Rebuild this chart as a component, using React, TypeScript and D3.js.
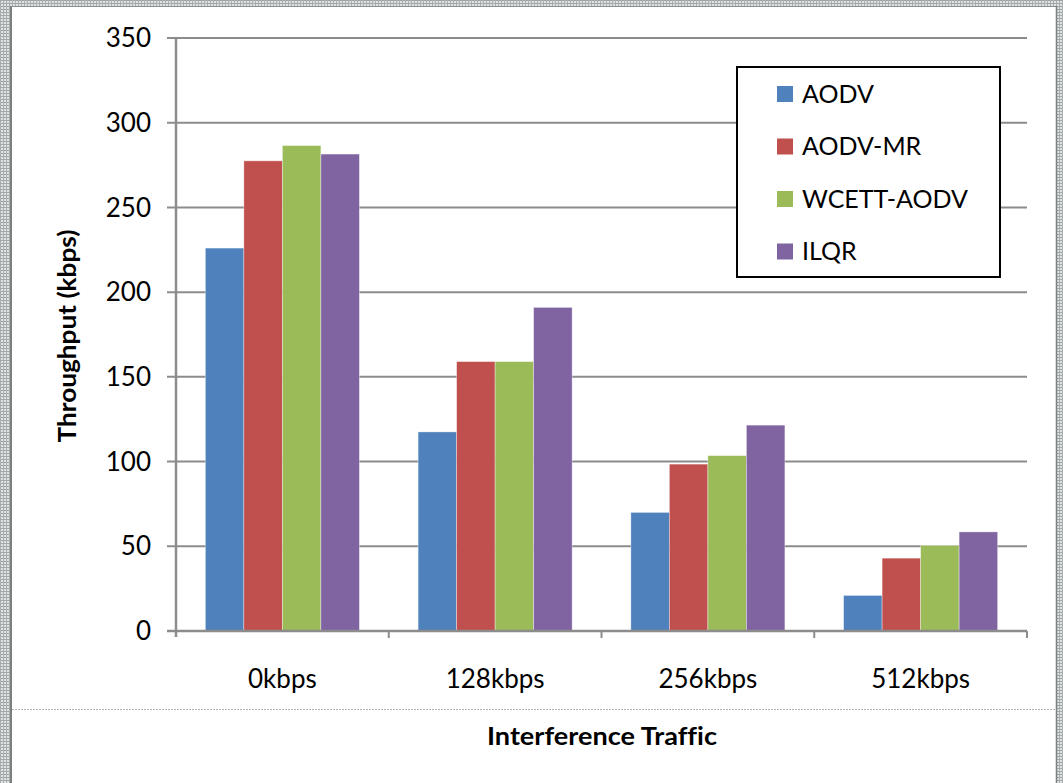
import React from "react";
import * as d3 from "d3";

const categories = ["0kbps", "128kbps", "256kbps", "512kbps"];
const seriesNames = ["AODV", "AODV-MR", "WCETT-AODV", "ILQR"];
const aodv = [226, 117.5, 70, 21];
const aodvMr = [277.5, 159, 98.5, 43];
const wcettAodv = [286.5, 159, 103.5, 50.5];
const ilqr = [281.5, 191, 121.5, 58.5];
const seriesValues = [aodv, aodvMr, wcettAodv, ilqr];
const yTicks = [0, 50, 100, 150, 200, 250, 300, 350];
const colors = ["#4F81BD", "#C0504D", "#9BBB59", "#8064A2"];

const W = 1063;
const H = 783;
const FONT = "Lato, 'Open Sans', sans-serif";

export default function App() {
  const left = 176;
  const right = 1027;
  const top = 38;
  const bottom = 631;

  const x = d3.scaleBand<string>().domain(categories).range([left, right]).padding(0);
  const bw = x.bandwidth();
  const gap = bw * 0.138;
  const xs = d3
    .scaleBand<string>()
    .domain(seriesNames)
    .range([gap, bw - gap])
    .padding(0);
  const y = d3.scaleLinear().domain([0, 350]).range([bottom, top]);

  const gridColor = "#8c8c8c";

  return (
    <svg
      width={W}
      height={H}
      style={{
        position: "absolute",
        left: 0,
        top: 0,
        display: "block",
        background: "#fff",
        fontVariantLigatures: "none",
      }}
    >
      <defs>
        <pattern id="grain" width="3" height="3" patternUnits="userSpaceOnUse">
          <rect width="3" height="3" fill="#dfe3e3" />
          <rect width="3" height="1" fill="#9ea4a4" />
          <rect width="1" height="3" fill="#a8aeae" />
        </pattern>
      </defs>

      {/* window frame */}
      <rect x={0} y={0} width={11} height={H} fill="url(#grain)" />
      <rect x={0} y={0} width={W} height={6} fill="url(#grain)" />
      <rect x={1057} y={0} width={6} height={H} fill="url(#grain)" />
      <line x1={11} x2={11} y1={6} y2={H} stroke="#7a7f7f" strokeWidth={2} />
      <line x1={11} x2={1057} y1={6.5} y2={6.5} stroke="#8a8f8f" strokeWidth={1} />
      <line x1={1056.5} x2={1056.5} y1={6} y2={H} stroke="#7a7f7f" strokeWidth={1.5} />
      <line
        x1={12}
        x2={1056}
        y1={709.5}
        y2={709.5}
        stroke="#b5b5b5"
        strokeWidth={1}
        strokeDasharray="2,1"
      />

      {/* gridlines and y ticks */}
      {yTicks.map((t) => (
        <g key={t}>
          <line x1={167} x2={right} y1={y(t)} y2={y(t)} stroke={gridColor} strokeWidth={2} />
          <text
            x={151}
            y={y(t)}
            dy="0.35em"
            textAnchor="end"
            fontFamily={FONT}
            fontSize={26}
            fill="#000"
          >
            {t}
          </text>
        </g>
      ))}

      {/* bars */}
      {categories.map((c, ci) => (
        <g key={c} transform={`translate(${x(c)},0)`}>
          {seriesNames.map((s, si) => {
            const v = seriesValues[si][ci];
            return (
              <rect
                key={s}
                x={xs(s)}
                y={y(v)}
                width={xs.bandwidth()}
                height={y(0) - y(v)}
                fill={colors[si]}
                stroke="#ffffff"
                strokeOpacity={0.45}
                strokeWidth={0.8}
              />
            );
          })}
        </g>
      ))}

      {/* axes */}
      <line x1={left} x2={left} y1={top} y2={bottom + 6} stroke={gridColor} strokeWidth={2.5} />
      <line x1={167} x2={right} y1={bottom} y2={bottom} stroke={gridColor} strokeWidth={2.5} />
      {categories.map((c, i) => (
        <line
          key={"t" + c}
          x1={left + (i + 1) * bw}
          x2={left + (i + 1) * bw}
          y1={bottom}
          y2={bottom + 7}
          stroke={gridColor}
          strokeWidth={2}
        />
      ))}
      {categories.map((c) => (
        <text
          key={"l" + c}
          x={(x(c) as number) + bw / 2}
          y={679}
          dy="0.35em"
          textAnchor="middle"
          fontFamily={FONT}
          fontSize={26}
          fill="#000"
        >
          {c}
        </text>
      ))}

      {/* axis titles */}
      <text
        x={602}
        y={737}
        dy="0.35em"
        textAnchor="middle"
        fontFamily={FONT}
        fontWeight="bold"
        fontSize={24}
        textLength={230}
        lengthAdjust="spacingAndGlyphs"
        fill="#000"
      >
        Interference Traffic
      </text>
      <text
        transform={`translate(68,336) rotate(-90)`}
        dy="0.35em"
        textAnchor="middle"
        fontFamily={FONT}
        fontWeight="bold"
        fontSize={24}
        textLength={213}
        lengthAdjust="spacingAndGlyphs"
        fill="#000"
      >
        Throughput (kbps)
      </text>

      {/* legend */}
      <rect x={737} y={67} width={263} height={210} fill="#fff" stroke="#000" strokeWidth={2} />
      {seriesNames.map((s, i) => {
        const cy = 94 + i * 52.5;
        return (
          <g key={"lg" + s}>
            <rect x={777} y={cy - 8} width={16} height={16} fill={colors[i]} />
            <text
              x={802}
              y={cy}
              dy="0.35em"
              fontFamily={FONT}
              fontSize={25}
              fill="#000"
            >
              {s}
            </text>
          </g>
        );
      })}
    </svg>
  );
}
